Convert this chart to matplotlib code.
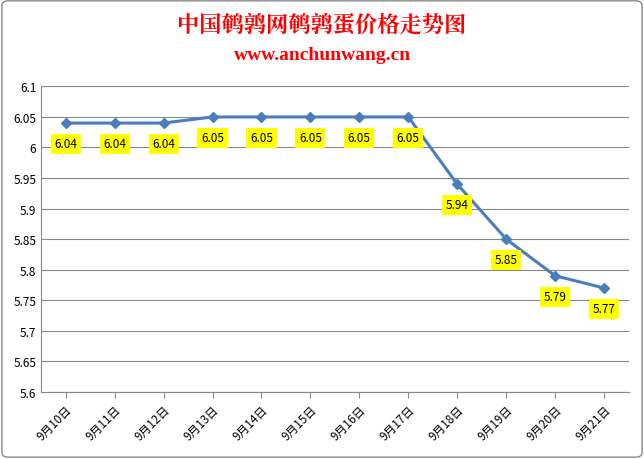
import matplotlib.pyplot as plt
from matplotlib.patches import FancyBboxPatch

plt.rcParams['font.family'] = ['Noto Sans CJK SC', 'DejaVu Sans']

dates = ['9月10日', '9月11日', '9月12日', '9月13日', '9月14日', '9月15日',
         '9月16日', '9月17日', '9月18日', '9月19日', '9月20日', '9月21日']
prices = [6.04, 6.04, 6.04, 6.05, 6.05, 6.05, 6.05, 6.05, 5.94, 5.85, 5.79, 5.77]
yticks = [5.6, 5.65, 5.7, 5.75, 5.8, 5.85, 5.9, 5.95, 6.0, 6.05, 6.1]
ytick_labels = ['5.6', '5.65', '5.7', '5.75', '5.8', '5.85', '5.9', '5.95', '6', '6.05', '6.1']

fig = plt.figure(figsize=(6.44, 4.6), dpi=100)
fig.patches.append(FancyBboxPatch((0.003, 0.004), 0.994, 0.992, boxstyle='round,pad=0,rounding_size=0.01',
                                  transform=fig.transFigure, fill=False, edgecolor='#888888', linewidth=1))
ax = fig.add_axes([0.064, 0.146, 0.912, 0.664])

x = range(len(dates))
ax.plot(x, prices, color='#4a7ebb', linewidth=2.2, marker='D', markersize=5)
for i, v in enumerate(prices):
    ax.annotate(f'{v:g}', (i, v), xytext=(0, -15), textcoords='offset points',
                ha='center', va='center', fontsize=8.5,
                bbox=dict(boxstyle='square,pad=0.3', facecolor='#ffff00', edgecolor='none'))

ax.set_xlim(-0.5, len(dates) - 0.5)
ax.set_ylim(5.6, 6.1)
ax.set_yticks(yticks)
ax.set_yticklabels(ytick_labels, fontsize=8.5)
ax.set_xticks(list(x))
ax.set_xticklabels(dates, rotation=45, ha='right', rotation_mode='anchor', fontsize=8.5)
ax.grid(axis='y', color='#888888', linewidth=0.8)
ax.set_axisbelow(True)
for s in ['top', 'right']:
    ax.spines[s].set_visible(False)
ax.spines['left'].set_color('#888888')
ax.spines['bottom'].set_color('#888888')
ax.tick_params(axis='y', length=0)
ax.tick_params(axis='x', length=4, color='#888888')

fig.text(0.5, 0.945, '中国鹌鹑网鹌鹑蛋价格走势图', ha='center', va='center',
         fontsize=16, color='#ff0000', fontweight='bold', family=['Noto Serif CJK SC', 'Noto Sans CJK SC'])
fig.text(0.5, 0.88, 'www.anchunwang.cn', ha='center', va='center',
         fontsize=14, color='#ff0000', fontweight='bold', family='Liberation Serif')

fig.savefig('out.png', dpi=100)
